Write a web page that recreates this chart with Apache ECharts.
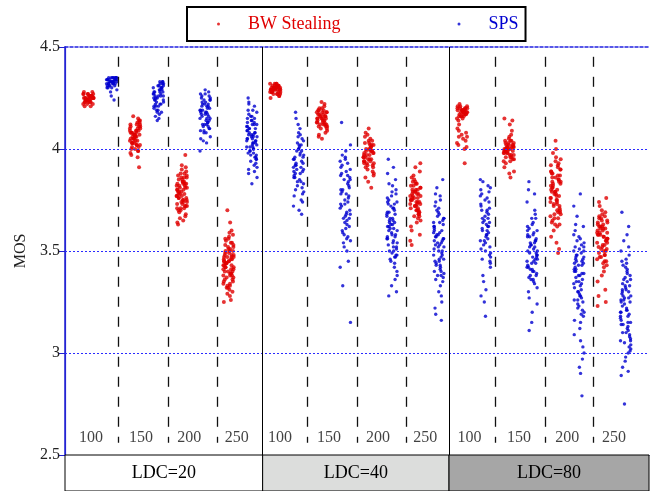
<!DOCTYPE html>
<html><head><meta charset="utf-8">
<script src="https://cdn.jsdelivr.net/npm/echarts@6/dist/echarts.min.js"></script>
<style>html,body{margin:0;padding:0;background:#fff}#c{width:656px;height:491px}</style>
</head><body><div id="c"></div>
<script>
// ---- categories ----
const LDC = ['LDC=20', 'LDC=40', 'LDC=80'];
const RATES = ['100', '150', '200', '250'];
const SERIES_NAMES = ['BW Stealing', 'SPS'];
const Y_TICKS = [2.5, 3, 3.5, 4, 4.5];
const GRID_Y = [3, 3.5, 4];

// ---- MOS samples ----
// LDC=20
const bw20_100 = [4.25,4.23,4.27,4.24,4.26,4.22,4.25,4.28,4.24,4.26,4.23,4.25,4.27,4.21,4.24,4.26,4.25,4.22,4.27,4.24,4.25,4.23,4.26,4.28,4.24,4.25,4.22,4.26,4.27,4.23,4.25,4.24,4.26,4.21,4.25,4.27,4.23,4.24,4.26,4.25];
const sps20_100 = [4.34,4.32,4.35,4.33,4.31,4.34,4.30,4.35,4.33,4.32,4.34,4.29,4.35,4.33,4.31,4.34,4.32,4.35,4.30,4.33,4.34,4.32,4.35,4.31,4.33,4.34,4.28,4.35,4.32,4.33,4.34,4.31,4.35,4.30,4.33,4.26,4.24,4.34,4.32,4.35];
const bw20_150 = [4.08,4.02,4.12,4.05,3.99,4.10,4.06,4.14,4.03,4.09,4.00,4.11,4.07,4.04,4.16,4.01,4.08,4.13,3.98,4.06,4.10,4.03,4.09,4.05,4.12,4.02,4.07,4.15,4.04,4.00,4.11,4.06,4.08,3.97,4.10,4.03,4.13,4.05,4.09,4.01,4.07,4.12,4.04,3.96,4.08,4.06,4.11,4.02,4.14,4.05,3.99,4.09,4.07,3.91,4.03];
const sps20_150 = [4.28,4.22,4.31,4.25,4.18,4.30,4.26,4.33,4.21,4.29,4.24,4.32,4.19,4.27,4.23,4.30,4.16,4.28,4.25,4.31,4.22,4.26,4.33,4.20,4.29,4.24,4.14,4.30,4.27,4.21,4.32,4.25,4.17,4.28,4.23,4.31,4.26,4.19,4.29,4.22,4.33,4.27,4.15,4.30,4.24,4.28,4.21,4.32,4.26,4.18];
const bw20_200 = [3.80,3.74,3.86,3.71,3.83,3.77,3.90,3.68,3.82,3.75,3.87,3.72,3.79,3.84,3.66,3.81,3.76,3.89,3.73,3.85,3.78,3.70,3.83,3.64,3.80,3.75,3.88,3.72,3.82,3.77,3.91,3.69,3.84,3.79,3.74,3.86,3.71,3.81,3.67,3.85,3.76,3.80,3.73,3.88,3.78,3.65,3.83,3.75,3.87,3.70,3.82,3.77,3.92,3.72,3.79,3.84,3.63,3.81,3.74,3.86,3.78,3.97,3.76,3.83,3.71];
const sps20_200 = [4.18,4.12,4.24,4.08,4.21,4.15,4.27,4.10,4.19,4.14,4.25,4.06,4.22,4.17,4.11,4.28,4.16,4.20,4.09,4.23,4.13,4.26,4.18,4.05,4.21,4.15,4.24,4.11,4.19,4.29,4.14,4.22,4.08,4.17,4.25,4.12,4.20,4.04,4.16,4.23,4.10,4.27,4.18,4.13,4.21,4.03,4.19,4.15,4.24,4.09,4.22,3.99,4.17,4.26,4.12];
const bw20_250 = [3.45,3.38,3.52,3.33,3.48,3.41,3.56,3.30,3.44,3.50,3.36,3.47,3.40,3.54,3.32,3.46,3.42,3.58,3.35,3.49,3.39,3.53,3.28,3.43,3.51,3.37,3.47,3.60,3.34,3.45,3.40,3.55,3.31,3.48,3.42,3.52,3.26,3.44,3.38,3.50,3.35,3.46,3.57,3.41,3.49,3.33,3.45,3.39,3.53,3.29,3.47,3.43,3.51,3.36,3.44,3.59,3.40,3.48,3.32,3.46,3.37,3.54,3.42,3.50,3.25,3.45,3.39,3.56,3.34,3.47,3.64,3.41,3.70,3.43,3.38];
const sps20_250 = [4.05,3.98,4.12,3.94,4.08,4.01,4.16,3.96,4.10,4.03,4.19,3.91,4.07,4.13,3.99,4.04,4.22,3.95,4.09,4.02,4.15,3.88,4.06,4.11,4.00,4.18,3.97,4.08,4.04,4.14,3.93,4.10,4.01,4.25,3.86,4.06,4.12,3.99,4.03,4.17,3.95,4.09,4.05,4.21,3.90,4.07,4.13,4.00,4.02,4.16,3.96,4.11,3.83,4.04,4.08,4.19,3.98,4.06,4.14,3.92,4.01,4.10,4.23,3.97,4.05,4.12,3.89,4.07,4.03,4.15];
// LDC=40
const bw40_100 = [4.29,4.31,4.27,4.30,4.28,4.32,4.29,4.26,4.31,4.30,4.28,4.29,4.32,4.27,4.30,4.31,4.28,4.29,4.25,4.30,4.31,4.28,4.32,4.29,4.27,4.30,4.29,4.31,4.28,4.30,4.26,4.29,4.32,4.30,4.28,4.31,4.29,4.27,4.30,4.29];
const sps40_100 = [3.95,3.88,4.04,3.82,3.99,3.91,4.08,3.78,3.93,4.01,3.86,3.97,4.12,3.84,3.90,4.05,3.80,3.96,3.89,4.02,3.75,3.92,4.10,3.87,3.98,3.83,4.03,3.94,3.72,4.00,3.89,4.15,3.85,3.96,3.79,4.06,3.91,3.99,3.81,4.18,3.93,3.86,3.70,4.02,3.88,3.97,3.77,4.07,3.90,3.84,3.68,3.95,4.00,3.74,3.92];
const bw40_150 = [4.15,4.12,4.18,4.10,4.16,4.13,4.20,4.11,4.17,4.14,4.19,4.09,4.15,4.21,4.12,4.16,4.07,4.18,4.13,4.15,4.22,4.11,4.17,4.14,4.19,4.10,4.16,4.12,4.18,4.05,4.15,4.20,4.13,4.17,4.11,4.23,4.14,4.16,4.08,4.19,4.12,4.15,4.18,4.13,4.06];
const sps40_150 = [3.78,3.65,3.90,3.58,3.84,3.71,3.96,3.62,3.80,3.68,3.88,3.55,3.75,3.93,3.66,3.82,3.60,3.86,3.73,3.99,3.57,3.79,3.69,3.91,3.63,3.85,3.52,3.76,3.94,3.67,3.81,3.59,3.89,3.72,4.02,3.64,3.83,3.54,3.77,3.97,3.70,3.87,3.61,3.74,3.92,3.56,3.80,3.50,3.68,3.85,3.45,3.42,3.95,3.66,3.33,3.78,4.13,3.15,3.73,3.87];
const bw40_200 = [3.98,3.94,4.02,3.90,3.99,3.96,4.04,3.92,4.00,3.97,4.06,3.88,3.95,4.01,3.93,3.99,4.08,3.91,3.97,4.03,3.95,3.86,4.00,3.94,4.05,3.98,3.92,4.02,3.96,4.10,3.89,3.99,3.95,4.03,3.93,3.84,4.01,3.97,4.04,3.91,3.98,3.94,4.00,3.81,3.96,4.02,3.93,3.99,3.87,4.07];
const sps40_200 = [3.62,3.50,3.74,3.45,3.68,3.56,3.79,3.48,3.65,3.71,3.53,3.60,3.77,3.42,3.66,3.58,3.83,3.51,3.69,3.63,3.47,3.75,3.55,3.88,3.61,3.40,3.72,3.57,3.67,3.49,3.80,3.64,3.54,3.73,3.38,3.59,3.70,3.46,3.85,3.62,3.52,3.76,3.66,3.44,3.60,3.91,3.56,3.71,3.48,3.63,3.36,3.68,3.58,3.78,3.50,3.65,3.95,3.54,3.33,3.73,3.61,3.47,3.69,3.30,3.57,3.82,3.64,3.28,3.52,3.74];
const bw40_250 = [3.75,3.70,3.81,3.67,3.78,3.73,3.84,3.69,3.77,3.72,3.86,3.65,3.79,3.74,3.82,3.68,3.76,3.89,3.71,3.80,3.66,3.75,3.83,3.62,3.78,3.73,3.85,3.70,3.77,3.91,3.67,3.79,3.74,3.60,3.81,3.72,3.76,3.87,3.69,3.80,3.58,3.75,3.83,3.71,3.78,3.64,3.82,3.73,3.93,3.76,3.68,3.55,3.79,3.74,3.84,3.70,3.53,3.77,3.72,3.80];
const sps40_250 = [3.55,3.42,3.66,3.38,3.60,3.48,3.71,3.35,3.57,3.64,3.45,3.52,3.69,3.40,3.58,3.50,3.74,3.37,3.62,3.46,3.54,3.78,3.43,3.61,3.33,3.56,3.67,3.49,3.59,3.30,3.65,3.44,3.53,3.72,3.39,3.58,3.47,3.81,3.55,3.36,3.63,3.51,3.68,3.28,3.57,3.41,3.60,3.75,3.46,3.54,3.25,3.64,3.50,3.85,3.43,3.59,3.22,3.66,3.52,3.38,3.70,3.48,3.19,3.56,3.62,3.45,3.16,3.53,3.77,3.40];
// LDC=80
const bw80_100 = [4.19,4.16,4.21,4.18,4.20,4.15,4.19,4.17,4.22,4.18,4.14,4.20,4.16,4.19,4.21,4.17,4.12,4.18,4.20,4.15,4.19,4.09,4.17,4.21,4.18,4.06,4.16,4.20,4.03,4.19,4.08,4.17,4.05,4.02,4.18,4.07,4.00,4.20,4.04,4.16,4.01,4.10,4.19,3.93,4.06];
const sps80_100 = [3.72,3.60,3.81,3.55,3.68,3.77,3.50,3.64,3.84,3.58,3.70,3.47,3.75,3.62,3.53,3.79,3.66,3.45,3.73,3.57,3.82,3.61,3.69,3.51,3.76,3.42,3.65,3.59,3.85,3.54,3.71,3.38,3.63,3.78,3.49,3.67,3.56,3.35,3.74,3.60,3.52,3.80,3.31,3.66,3.46,3.58,3.28,3.70,3.44,3.25,3.62,3.55,3.18,3.48,3.64];
const bw80_150 = [4.00,3.96,4.03,3.98,4.01,3.94,4.05,3.99,4.02,3.97,4.04,3.95,4.00,4.07,3.98,4.02,3.93,4.01,3.99,4.06,3.96,4.03,4.00,3.91,4.04,3.97,4.01,4.09,3.98,4.02,3.95,4.00,4.12,3.99,3.89,4.03,3.97,4.01,4.14,3.96,4.02,3.98,3.88,4.04,4.00,3.94,4.15,3.86,4.01,3.99];
const sps80_150 = [3.50,3.40,3.60,3.36,3.55,3.45,3.63,3.38,3.52,3.58,3.42,3.48,3.66,3.34,3.54,3.44,3.61,3.39,3.57,3.47,3.70,3.37,3.51,3.43,3.59,3.32,3.53,3.46,3.74,3.41,3.56,3.49,3.64,3.30,3.50,3.44,3.78,3.38,3.55,3.27,3.47,3.62,3.40,3.52,3.84,3.35,3.58,3.45,3.24,3.53,3.68,3.42,3.20,3.49,3.57,3.36,3.80,3.46,3.15,3.54,3.41,3.66,3.11,3.48,3.60];
const bw80_200 = [3.80,3.70,3.90,3.66,3.85,3.74,3.94,3.63,3.82,3.77,3.88,3.68,3.79,3.92,3.72,3.84,3.65,3.87,3.76,3.96,3.69,3.81,3.73,3.89,3.62,3.83,3.78,3.93,3.67,3.86,3.71,3.98,3.75,3.64,3.84,3.79,3.91,3.60,3.77,3.88,3.70,3.82,4.00,3.66,3.86,3.74,3.57,3.80,3.90,3.68,3.85,3.76,4.04,3.72,3.83,3.54,3.79,3.95,3.63,3.87,3.73,3.51,3.81,3.69,3.92,3.78,3.49,3.84,3.75,3.89];
const sps80_200 = [3.40,3.28,3.52,3.22,3.45,3.34,3.57,3.25,3.48,3.38,3.60,3.20,3.43,3.31,3.55,3.36,3.47,3.18,3.41,3.29,3.53,3.63,3.33,3.44,3.15,3.50,3.26,3.39,3.58,3.23,3.46,3.35,3.12,3.42,3.54,3.30,3.49,3.67,3.21,3.37,3.44,3.09,3.51,3.27,3.40,3.56,3.32,3.06,3.47,3.24,3.43,3.72,3.35,3.03,3.45,3.28,3.52,3.00,3.38,3.19,3.48,2.97,3.41,3.62,3.26,2.93,3.34,3.46,3.78,3.16,2.90,3.39,3.30,2.79,3.50];
const bw80_250 = [3.58,3.50,3.65,3.47,3.61,3.54,3.68,3.45,3.59,3.63,3.52,3.56,3.70,3.48,3.62,3.55,3.66,3.43,3.60,3.53,3.67,3.49,3.57,3.64,3.40,3.59,3.51,3.69,3.46,3.62,3.55,3.72,3.44,3.58,3.64,3.38,3.53,3.61,3.50,3.67,3.56,3.35,3.60,3.48,3.74,3.57,3.63,3.42,3.54,3.66,3.31,3.59,3.52,3.76,3.47,3.61,3.28,3.56,3.65,3.45,3.58,3.25,3.62,3.51,3.23];
const sps80_250 = [3.25,3.12,3.36,3.05,3.30,3.18,3.42,3.08,3.28,3.21,3.45,3.02,3.33,3.15,3.26,3.48,3.10,3.38,3.20,3.31,3.00,3.23,3.40,3.14,3.35,3.06,3.27,3.52,3.17,3.32,3.09,3.43,3.22,3.29,3.04,3.37,3.13,3.55,3.19,3.34,3.01,3.26,3.46,3.11,3.30,3.58,3.16,3.39,3.07,3.24,3.62,3.20,2.98,3.33,3.14,3.44,3.69,3.28,2.96,3.18,3.36,3.03,2.93,3.25,3.50,3.10,2.91,3.31,3.21,2.89,3.41,3.15,2.75,3.27,3.06];

const BW = [[bw20_100,bw20_150,bw20_200,bw20_250],[bw40_100,bw40_150,bw40_200,bw40_250],[bw80_100,bw80_150,bw80_200,bw80_250]];
const SPS = [[sps20_100,sps20_150,sps20_200,sps20_250],[sps40_100,sps40_150,sps40_200,sps40_250],[sps80_100,sps80_150,sps80_200,sps80_250]];

// ---- layout constants (axis units: one slot per cluster) ----
const JIT = [-0.19,0.07,0.21,-0.05,0.13,-0.22,0.0,0.17,-0.11,0.04,-0.16,0.22,-0.02,0.1,-0.08,0.15,-0.13,0.19,-0.2,0.02,0.11,-0.14,0.06];
const PANEL_EDGES = [0, 8.46, 16.44, 25];
const DASH_X = [2.28, 4.42, 6.52, 10.37, 12.52, 14.59, 18.41, 20.55, 22.62];
const LABEL_X = [1.11, 3.25, 5.32, 7.35, 9.2, 11.3, 13.4, 15.42, 17.32, 19.44, 21.5, 23.5];

const RED = '#e00000', BLUE = '#0000d0', GRIDBLUE = '#2b2bff';
const FONT = "'Liberation Serif', 'Times New Roman', Tinos, 'DejaVu Serif', serif";

function cloud(values, slot) { return values.map((v, i) => [slot + JIT[i % JIT.length], v]); }
const redData = [], blueData = [];
LDC.forEach((_, l) => RATES.forEach((_, r) => {
  const slot = 8 * l + 2 * r + 1;
  redData.push(...cloud(BW[l][r], slot));
  blueData.push(...cloud(SPS[l][r], slot + 1));
}));
const labelData = LABEL_X.map((x, i) => ({ value: [x, 2.583], name: RATES[i % 4] }));

const bandColors = ['#ffffff', '#dcdddc', '#a6a6a6'];
const bandAreas = LDC.map((n, i) => [
  { name: n, coord: [PANEL_EDGES[i], 0], itemStyle: { color: bandColors[i] } },
  { coord: [PANEL_EDGES[i + 1], 1] }
]);

const chart = echarts.init(document.getElementById('c'), null, { renderer: 'canvas' });
chart.setOption({
  animation: false,
  backgroundColor: '#fff',
  textStyle: { fontFamily: FONT },
  legend: {
    top: 7, left: 187, orient: 'horizontal',
    padding: [8, 7, 8, 30], itemGap: 117, itemWidth: 3, itemHeight: 3,
    borderColor: '#000', borderWidth: 2, backgroundColor: '#fff',
    textStyle: { fontFamily: FONT, fontSize: 18, padding: [0, 0, 0, 23] },
    data: [
      { name: SERIES_NAMES[0], icon: 'circle',
        textStyle: { color: RED, fontFamily: FONT, fontSize: 18, padding: [0, 0, 0, 23] } },
      { name: SERIES_NAMES[1], icon: 'circle',
        textStyle: { color: BLUE, fontFamily: FONT, fontSize: 18, padding: [0, 0, 0, 23] } }
    ]
  },
  grid: [
    { left: 65, top: 47, width: 584, height: 408 },
    { left: 65, top: 455, width: 584, height: 38 }
  ],
  xAxis: [
    { gridIndex: 0, type: 'value', min: 0, max: 25, position: 'bottom',
      axisLine: { show: true, lineStyle: { color: '#000050', width: 1.2 } },
      axisTick: { show: false }, axisLabel: { show: false }, splitLine: { show: false } },
    { gridIndex: 0, type: 'value', min: 0, max: 25, position: 'top',
      axisLine: { show: true, lineStyle: { color: '#2020e0', width: 1.5, type: [3, 2] } },
      axisTick: { show: false }, axisLabel: { show: false }, splitLine: { show: false } },
    { gridIndex: 1, type: 'value', min: 0, max: 25, show: false }
  ],
  yAxis: [
    { gridIndex: 0, type: 'value', min: 2.5, max: 4.5, interval: 0.5, position: 'left',
      name: 'MOS', nameLocation: 'middle', nameRotate: 90, nameGap: 35,
      nameTextStyle: { fontFamily: FONT, fontSize: 16, color: '#222' },
      axisLine: { show: true, lineStyle: { color: '#3030e0', width: 1.2 } },
      axisTick: { show: false },
      axisLabel: { fontFamily: FONT, fontSize: 16, color: '#222', margin: 5,
        formatter: v => String(Y_TICKS.find(t => Math.abs(t - v) < 1e-6)) },
      splitLine: { show: false } },
    { gridIndex: 0, type: 'value', min: 2.5, max: 4.5, interval: 0.5, position: 'right',
      axisLine: { show: true, lineStyle: { color: '#2020d0', width: 1.5 } },
      axisTick: { show: true, inside: true, length: 6, lineStyle: { color: '#2020d0' } },
      axisLabel: { show: false }, splitLine: { show: false } },
    { gridIndex: 1, type: 'value', min: 0, max: 1, show: false }
  ],
  series: [
    { type: 'line', xAxisIndex: 0, yAxisIndex: 0, data: [], silent: true, z: 1,
      markLine: { silent: true, symbol: ['none', 'none'], label: { show: false }, animation: false,
        lineStyle: { color: GRIDBLUE, width: 1, type: [2, 2], opacity: 1 },
        data: GRID_Y.map(y => [{ coord: [0, y] }, { coord: [25, y] }]) } },
    { name: SERIES_NAMES[1], type: 'scatter', xAxisIndex: 0, yAxisIndex: 0, symbol: 'circle',
      symbolSize: 3.4, itemStyle: { color: BLUE }, data: blueData, silent: true, z: 3 },
    { name: SERIES_NAMES[0], type: 'scatter', xAxisIndex: 0, yAxisIndex: 0, symbol: 'circle',
      symbolSize: 4, itemStyle: { color: RED }, data: redData, silent: true, z: 3 },
    { type: 'scatter', xAxisIndex: 0, yAxisIndex: 0, symbolSize: 0, silent: true, z: 4,
      data: labelData,
      label: { show: true, position: 'inside', formatter: p => p.name,
        fontFamily: FONT, fontSize: 16, color: '#111' } },
    { type: 'line', xAxisIndex: 0, yAxisIndex: 0, data: [], silent: true, z: 2,
      markLine: { silent: true, symbol: ['none', 'none'], label: { show: false }, animation: false,
        lineStyle: { color: '#111', width: 1.3, type: [10, 10] },
        data: DASH_X.map(x => [{ coord: [x, 4.452] }, { coord: [x, 2.56] }]) } },
    { type: 'line', xAxisIndex: 0, yAxisIndex: 0, data: [], silent: true, z: 2,
      markLine: { silent: true, symbol: ['none', 'none'], label: { show: false }, animation: false,
        lineStyle: { color: '#000', width: 1, type: 'solid' },
        data: PANEL_EDGES.slice(1, 3).map(x => [{ coord: [x, 4.5] }, { coord: [x, 2.5] }]) } },
    { type: 'line', xAxisIndex: 2, yAxisIndex: 2, data: [], silent: true,
      markArea: { silent: true, animation: false,
        itemStyle: { borderColor: '#000', borderWidth: 1 },
        label: { show: true, position: 'inside', fontFamily: FONT, fontSize: 18, color: '#000' },
        data: bandAreas } }
  ]
});
</script></body></html>
